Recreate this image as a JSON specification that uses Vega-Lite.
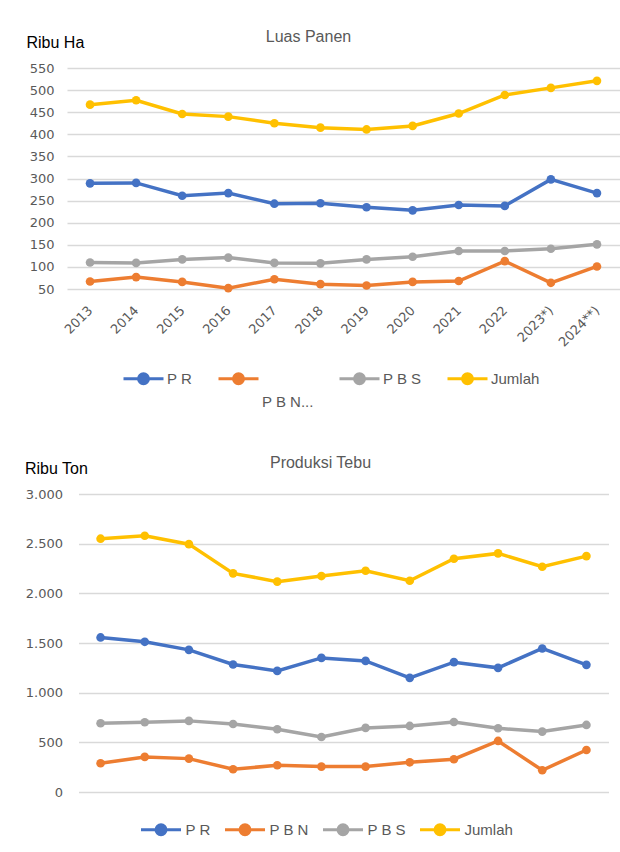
{
  "$schema": "https://vega.github.io/schema/vega-lite/v6.json",
  "background": "white",
  "padding": {"left": 24, "top": 29, "right": 2, "bottom": 2},
  "columns": 1,
  "center": true,
  "spacing": 45,
  "resolve": {"scale": {"color": "independent", "x": "independent", "y": "independent"}, "legend": {"color": "independent"}},
  "config": {
    "view": {"stroke": null},
    "font": "Liberation Sans",
    "axis": {"labelFont": "DejaVu Sans", "labelFontSize": 13, "labelColor": "#595959", "gridColor": "#D9D9D9", "gridWidth": 1.3, "domain": false, "ticks": false},
    "title": {"font": "Liberation Sans", "fontSize": 16, "fontWeight": "normal", "color": "#595959"}
  },
  "datasets": {
    "luas": [
      {"tahun": "2013", "seri": "P R", "nilai": 289}, {"tahun": "2014", "seri": "P R", "nilai": 290}, {"tahun": "2015", "seri": "P R", "nilai": 261}, {"tahun": "2016", "seri": "P R", "nilai": 267}, {"tahun": "2017", "seri": "P R", "nilai": 243}, {"tahun": "2018", "seri": "P R", "nilai": 244}, {"tahun": "2019", "seri": "P R", "nilai": 235}, {"tahun": "2020", "seri": "P R", "nilai": 228}, {"tahun": "2021", "seri": "P R", "nilai": 240}, {"tahun": "2022", "seri": "P R", "nilai": 238}, {"tahun": "2023*)", "seri": "P R", "nilai": 298}, {"tahun": "2024**)", "seri": "P R", "nilai": 267},
      {"tahun": "2013", "seri": "P B N", "nilai": 67}, {"tahun": "2014", "seri": "P B N", "nilai": 77}, {"tahun": "2015", "seri": "P B N", "nilai": 66}, {"tahun": "2016", "seri": "P B N", "nilai": 52}, {"tahun": "2017", "seri": "P B N", "nilai": 72}, {"tahun": "2018", "seri": "P B N", "nilai": 61}, {"tahun": "2019", "seri": "P B N", "nilai": 58}, {"tahun": "2020", "seri": "P B N", "nilai": 66}, {"tahun": "2021", "seri": "P B N", "nilai": 68}, {"tahun": "2022", "seri": "P B N", "nilai": 113}, {"tahun": "2023*)", "seri": "P B N", "nilai": 64}, {"tahun": "2024**)", "seri": "P B N", "nilai": 101},
      {"tahun": "2013", "seri": "P B S", "nilai": 110}, {"tahun": "2014", "seri": "P B S", "nilai": 109}, {"tahun": "2015", "seri": "P B S", "nilai": 117}, {"tahun": "2016", "seri": "P B S", "nilai": 121}, {"tahun": "2017", "seri": "P B S", "nilai": 109}, {"tahun": "2018", "seri": "P B S", "nilai": 108}, {"tahun": "2019", "seri": "P B S", "nilai": 117}, {"tahun": "2020", "seri": "P B S", "nilai": 123}, {"tahun": "2021", "seri": "P B S", "nilai": 136}, {"tahun": "2022", "seri": "P B S", "nilai": 136}, {"tahun": "2023*)", "seri": "P B S", "nilai": 141}, {"tahun": "2024**)", "seri": "P B S", "nilai": 151},
      {"tahun": "2013", "seri": "Jumlah", "nilai": 467}, {"tahun": "2014", "seri": "Jumlah", "nilai": 477}, {"tahun": "2015", "seri": "Jumlah", "nilai": 446}, {"tahun": "2016", "seri": "Jumlah", "nilai": 440}, {"tahun": "2017", "seri": "Jumlah", "nilai": 425}, {"tahun": "2018", "seri": "Jumlah", "nilai": 415}, {"tahun": "2019", "seri": "Jumlah", "nilai": 411}, {"tahun": "2020", "seri": "Jumlah", "nilai": 419}, {"tahun": "2021", "seri": "Jumlah", "nilai": 447}, {"tahun": "2022", "seri": "Jumlah", "nilai": 489}, {"tahun": "2023*)", "seri": "Jumlah", "nilai": 505}, {"tahun": "2024**)", "seri": "Jumlah", "nilai": 521}
    ],
    "produksi": [
      {"tahun": "2013", "seri": "P R", "nilai": 1556}, {"tahun": "2014", "seri": "P R", "nilai": 1512}, {"tahun": "2015", "seri": "P R", "nilai": 1431}, {"tahun": "2016", "seri": "P R", "nilai": 1284}, {"tahun": "2017", "seri": "P R", "nilai": 1219}, {"tahun": "2018", "seri": "P R", "nilai": 1350}, {"tahun": "2019", "seri": "P R", "nilai": 1320}, {"tahun": "2020", "seri": "P R", "nilai": 1149}, {"tahun": "2021", "seri": "P R", "nilai": 1307}, {"tahun": "2022", "seri": "P R", "nilai": 1250}, {"tahun": "2023*)", "seri": "P R", "nilai": 1445}, {"tahun": "2024**)", "seri": "P R", "nilai": 1280},
      {"tahun": "2013", "seri": "P B N", "nilai": 289}, {"tahun": "2014", "seri": "P B N", "nilai": 353}, {"tahun": "2015", "seri": "P B N", "nilai": 336}, {"tahun": "2016", "seri": "P B N", "nilai": 229}, {"tahun": "2017", "seri": "P B N", "nilai": 269}, {"tahun": "2018", "seri": "P B N", "nilai": 256}, {"tahun": "2019", "seri": "P B N", "nilai": 256}, {"tahun": "2020", "seri": "P B N", "nilai": 299}, {"tahun": "2021", "seri": "P B N", "nilai": 330}, {"tahun": "2022", "seri": "P B N", "nilai": 514}, {"tahun": "2023*)", "seri": "P B N", "nilai": 219}, {"tahun": "2024**)", "seri": "P B N", "nilai": 423},
      {"tahun": "2013", "seri": "P B S", "nilai": 692}, {"tahun": "2014", "seri": "P B S", "nilai": 702}, {"tahun": "2015", "seri": "P B S", "nilai": 716}, {"tahun": "2016", "seri": "P B S", "nilai": 685}, {"tahun": "2017", "seri": "P B S", "nilai": 632}, {"tahun": "2018", "seri": "P B S", "nilai": 554}, {"tahun": "2019", "seri": "P B S", "nilai": 645}, {"tahun": "2020", "seri": "P B S", "nilai": 665}, {"tahun": "2021", "seri": "P B S", "nilai": 705}, {"tahun": "2022", "seri": "P B S", "nilai": 642}, {"tahun": "2023*)", "seri": "P B S", "nilai": 608}, {"tahun": "2024**)", "seri": "P B S", "nilai": 675},
      {"tahun": "2013", "seri": "Jumlah", "nilai": 2550}, {"tahun": "2014", "seri": "Jumlah", "nilai": 2580}, {"tahun": "2015", "seri": "Jumlah", "nilai": 2495}, {"tahun": "2016", "seri": "Jumlah", "nilai": 2201}, {"tahun": "2017", "seri": "Jumlah", "nilai": 2118}, {"tahun": "2018", "seri": "Jumlah", "nilai": 2174}, {"tahun": "2019", "seri": "Jumlah", "nilai": 2227}, {"tahun": "2020", "seri": "Jumlah", "nilai": 2127}, {"tahun": "2021", "seri": "Jumlah", "nilai": 2348}, {"tahun": "2022", "seri": "Jumlah", "nilai": 2402}, {"tahun": "2023*)", "seri": "Jumlah", "nilai": 2268}, {"tahun": "2024**)", "seri": "Jumlah", "nilai": 2375}
    ]
  },
  "concat": [
    {
      "width": 553,
      "height": 221,
      "title": {"text": "Luas Panen", "anchor": "middle", "dx": -35, "dy": 21, "offset": 10},
      "data": {"name": "luas"},
      "mark": {"type": "line", "strokeWidth": 3.5, "point": {"filled": true, "size": 75}},
      "encoding": {
        "x": {"field": "tahun", "type": "nominal", "sort": null, "scale": {"type": "point", "padding": 0.5},
              "axis": {"title": null, "labelAngle": -45, "labelAlign": "right", "labelBaseline": "middle", "labelPadding": 19, "grid": false}},
        "y": {"field": "nilai", "type": "quantitative", "scale": {"domain": [50, 550], "nice": false, "zero": false},
              "axis": {"values": [50, 100, 150, 200, 250, 300, 350, 400, 450, 500, 550], "labelPadding": 13,
                       "title": "Ribu Ha", "titleAngle": 0, "titleAlign": "left", "titleBaseline": "alphabetic", "titleX": -41, "titleY": -21,
                       "titleFont": "Liberation Sans", "titleFontSize": 16, "titleFontWeight": "normal", "titleColor": "#000000"}},
        "color": {"field": "seri", "type": "nominal",
                  "scale": {"domain": ["P R", "P B N", "P B S", "Jumlah"], "range": ["#4472C4", "#ED7D31", "#A5A5A5", "#FFC000"]},
                  "legend": {"orient": "none", "direction": "horizontal", "legendX": 55, "legendY": 289, "title": null,
                             "symbolType": "M-1,0L1,0M-0.25,0A0.25,0.25,0,1,1,0.25,0A0.25,0.25,0,1,1,-0.25,0Z",
                             "symbolSize": 1600, "symbolStrokeWidth": 3, "columnPadding": 19, "labelOffset": 2,
                             "labelFont": "Liberation Sans", "labelFontSize": 15, "labelColor": "#595959", "labelLimit": 200,
                             "labelExpr": "datum.label == 'P B N' ? ['\u00a0', 'P B N...'] : [datum.label, '\u00a0']",
                             "encode": {
                               "labels": {"update": {"lineHeight": {"value": 23}}},
                               "symbols": {"update": {
                               "fill": {"signal": "datum.value == 'P R' ? '#4472C4' : datum.value == 'P B N' ? '#ED7D31' : datum.value == 'P B S' ? '#A5A5A5' : '#FFC000'"},
                               "stroke": {"signal": "datum.value == 'P R' ? '#4472C4' : datum.value == 'P B N' ? '#ED7D31' : datum.value == 'P B S' ? '#A5A5A5' : '#FFC000'"},
                               "opacity": {"value": 1}}}}}}
      }
    },
    {
      "width": 530,
      "height": 298,
      "title": {"text": "Produksi Tebu", "anchor": "middle", "dx": -23, "dy": 21, "offset": 10},
      "data": {"name": "produksi"},
      "mark": {"type": "line", "strokeWidth": 3.5, "point": {"filled": true, "size": 75}},
      "encoding": {
        "x": {"field": "tahun", "type": "nominal", "sort": null, "scale": {"type": "point", "padding": 0.5},
              "axis": null},
        "y": {"field": "nilai", "type": "quantitative", "scale": {"domain": [0, 3000], "nice": false},
              "axis": {"values": [0, 500, 1000, 1500, 2000, 2500, 3000], "labelPadding": 16,
                       "labelExpr": "replace(format(datum.value, ',d'), ',', '.')",
                       "title": "Ribu Ton", "titleAngle": 0, "titleAlign": "left", "titleBaseline": "alphabetic", "titleX": -54, "titleY": -21,
                       "titleFont": "Liberation Sans", "titleFontSize": 16, "titleFontWeight": "normal", "titleColor": "#000000"}},
        "color": {"field": "seri", "type": "nominal",
                  "scale": {"domain": ["P R", "P B N", "P B S", "Jumlah"], "range": ["#4472C4", "#ED7D31", "#A5A5A5", "#FFC000"]},
                  "legend": {"orient": "none", "direction": "horizontal", "legendX": 61, "legendY": 314, "title": null,
                             "symbolType": "M-1,0L1,0M-0.25,0A0.25,0.25,0,1,1,0.25,0A0.25,0.25,0,1,1,-0.25,0Z",
                             "symbolSize": 1600, "symbolStrokeWidth": 3, "columnPadding": 7, "labelOffset": 3,
                             "labelFont": "Liberation Sans", "labelFontSize": 15, "labelColor": "#595959",
                             "encode": {"symbols": {"update": {
                               "fill": {"signal": "datum.value == 'P R' ? '#4472C4' : datum.value == 'P B N' ? '#ED7D31' : datum.value == 'P B S' ? '#A5A5A5' : '#FFC000'"},
                               "stroke": {"signal": "datum.value == 'P R' ? '#4472C4' : datum.value == 'P B N' ? '#ED7D31' : datum.value == 'P B S' ? '#A5A5A5' : '#FFC000'"},
                               "opacity": {"value": 1}}}}}}
      }
    }
  ]
}
